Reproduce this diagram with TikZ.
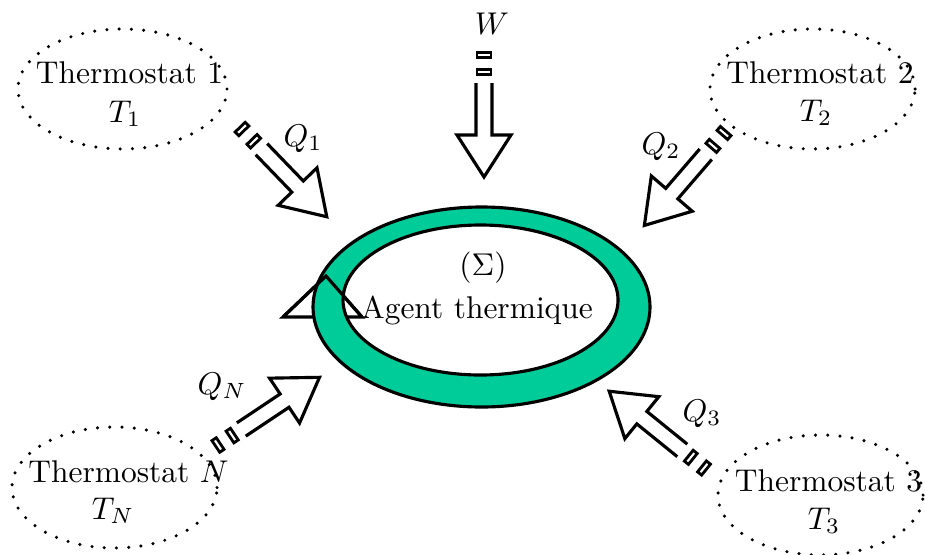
\documentclass[tikz,border=0pt]{standalone}
\usetikzlibrary{calc}
\definecolor{ringgreen}{RGB}{0,204,153}
\tikzset{
  heatline/.style={line width=1pt, line join=miter},
  dashbox/.style={line width=0.9pt},
  heat/.pic={
    \draw[dashbox] (-2.6,-7) rectangle (2.6,7);
    \draw[dashbox] (14.4,-7) rectangle (19.6,7);
    \draw[heatline] (28,8) -- (80,8) -- (80,27) -- (122,0) -- (80,-27) -- (80,-8) -- (28,-8);
  },
  thermo/.style={draw, line width=1.1pt, line cap=round, dash pattern=on 0pt off 3.9pt},
  lbl/.style={inner sep=0pt, anchor=base},
  ringline/.style={line width=1pt, line join=miter},
}
\begin{document}
\begin{tikzpicture}[x=0.318pt,y=0.318pt]
\useasboundingbox (0,0) rectangle (925,-554);

% thermostats
\draw[thermo] (122.5,-89) ellipse [x radius=104.5, y radius=60];
\draw[thermo] (812.5,-89) ellipse [x radius=102.5, y radius=60];
\draw[thermo] (114.5,-487.5) ellipse [x radius=102.5, y radius=60.5];
\draw[thermo] (820.5,-495) ellipse [x radius=102.5, y radius=60];

\node[lbl] (t1) at (129.5,-83) {Thermostat 1};
\node[lbl] (T1) at (125,-122) {$T_1$};
\node[lbl] (t2) at (820,-83) {Thermostat 2};
\node[lbl] (T2) at (816,-121) {$T_2$};
\node[lbl] (tN) at (128.5,-482) {Thermostat $N$};
\node[lbl] (TN) at (113,-519) {$T_N$};
\node[lbl] (t3) at (828.5,-491) {Thermostat 3};
\node[lbl] (T3) at (824,-529) {$T_3$};

% cycle arrowhead (base partly hidden by the ring)
\draw[ringline] (283,-317) -- (326,-276) -- (362,-317) -- cycle;

% ring
\fill[ringgreen, even odd rule] (481.5,-307) ellipse [x radius=168.5, y radius=100]
  (480.5,-300) ellipse [x radius=137.5, y radius=75];
\draw[ringline] (481.5,-307) ellipse [x radius=168.5, y radius=100];
\draw[ringline] (480.5,-300) ellipse [x radius=137.5, y radius=75];
\draw[ringline] (283,-317) -- (326,-276) -- (362,-317);

\node[lbl] (sig) at (483,-275) {$(\Sigma)$};
\node[lbl] (agent) at (477,-318) {Agent thermique};

% heat / work arrows
\coordinate (sW) at (484,-55);
\coordinate (s1) at (242,-129);
\coordinate (s2) at (724,-133);
\coordinate (s3) at (704,-468);
\coordinate (sN) at (218,-445);
\pic[rotate=-90] at (sW) {heat};
\pic[rotate=-46] at (s1) {heat};
\pic[rotate=-130.75] at (s2) {heat};
\pic[rotate=141] at (s3) {heat};
\pic[rotate=33.7] at (sN) {heat};

\node[lbl] (W) at (492,-35) {$W$};
\node[lbl] (Q1) at (303,-146) {$Q_1$};
\node[lbl] (Q2) at (661,-154) {$Q_2$};
\node[lbl] (Q3) at (702,-421) {$Q_3$};
\node[lbl] (QN) at (222,-394) {$Q_N$};
\end{tikzpicture}
\end{document}
